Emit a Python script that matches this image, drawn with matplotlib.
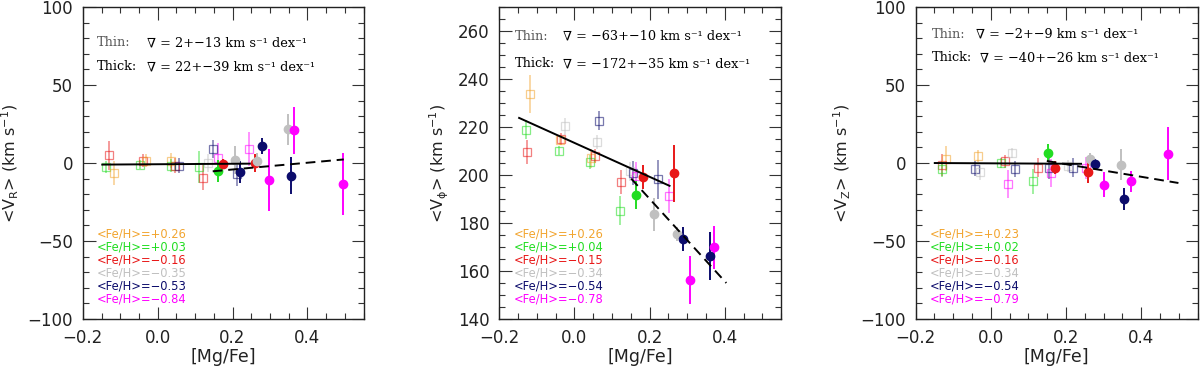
import matplotlib
matplotlib.use("Agg")
import matplotlib.pyplot as plt
from matplotlib.ticker import MultipleLocator, FuncFormatter

plt.rcParams['font.family'] = ['DejaVu Sans']
plt.rcParams['mathtext.fontset'] = 'dejavusans'
plt.rcParams['mathtext.default'] = 'regular'

bin_colors = ['#F2A530', '#22DD22', '#E81818', '#C0C0C0', '#0C0C6C', '#FF00FF']

# ---------------- Panel 1: V_R ----------------
R_thin_x = [-0.129, -0.137, -0.118, -0.047, -0.040, -0.032, 0.036, 0.036, 0.045, 0.058,
            0.110, 0.121, 0.135, 0.147, 0.161, 0.213, 0.245]
R_thin_y = [4.9, -2.5, -6.3, -1.0, 1.5, 1.5, 1.6, -1.6, -1.6, -1.6,
            -2.5, -9.5, 0.0, 9.0, 3.0, -7.0, 9.0]
R_thin_e = [9.5, 4, 7.5, 3, 4, 4, 5, 4, 5, 5,
            10, 8, 6, 6, 10, 8, 11]
R_thin_b = [2, 1, 0, 1, 2, 0, 0, 1, 2, 4,
            1, 2, 3, 4, 5, 4, 5]
R_thick_x = [0.161, 0.174, 0.206, 0.220, 0.261, 0.266, 0.279, 0.297, 0.347, 0.365, 0.356, 0.495]
R_thick_y = [-5.3, -0.6, 1.7, -5.7, 0.0, 1.5, 11.0, -10.8, 21.5, 21.0, -8.0, -13.5]
R_thick_e = [7, 3, 9, 7, 6, 5, 5, 20, 10, 15, 12, 20]
R_thick_b = [1, 2, 3, 4, 2, 3, 4, 5, 3, 5, 4, 5]
R_thin_fit_x = [-0.148, 0.246]
R_thin_fit_y = [-1.0, -0.4]
R_thick_fit_x = [0.147, 0.497]
R_thick_fit_y = [-5.3, 2.3]
R_feh = ['+0.26', '+0.03', '\u22120.16', '\u22120.35', '\u22120.53', '\u22120.84']
R_txt = ['2+\u221213', '22+\u221239']

# ---------------- Panel 2: V_phi ----------------
P_thin_x = [-0.117, -0.128, -0.125, -0.035, -0.037, -0.042, -0.026, 0.041, 0.045, 0.054,
            0.059, 0.066, 0.121, 0.125, 0.149, 0.156, 0.163, 0.223, 0.252]
P_thin_y = [233.8, 218.9, 209.5, 215.2, 214.6, 210.2, 220.3, 205.5, 207.0, 207.9,
            213.7, 222.6, 185.1, 197.1, 201.6, 201.0, 199.6, 198.2, 191.3]
P_thin_e = [8, 4, 5, 2.5, 2, 2, 3.5, 3, 4, 3,
            3, 4, 6, 5, 4, 5, 6, 8, 7]
P_thin_b = [0, 1, 2, 2, 0, 1, 3, 1, 0, 2,
            3, 4, 1, 2, 3, 4, 5, 4, 5]
P_thick_x = [0.183, 0.164, 0.266, 0.213, 0.274, 0.290, 0.360, 0.372, 0.307]
P_thick_y = [199.3, 191.7, 200.7, 183.6, 175.3, 173.2, 166.4, 169.9, 156.2]
P_thick_e = [5, 6, 12, 7, 3, 5, 10, 9, 10]
P_thick_b = [2, 1, 2, 3, 3, 4, 4, 5, 5]
P_thin_fit_x = [-0.147, 0.253]
P_thin_fit_y = [223.8, 195.5]
P_thick_fit_x = [0.151, 0.404]
P_thick_fit_y = [198.5, 155.0]
P_feh = ['+0.26', '+0.04', '\u22120.15', '\u22120.34', '\u22120.54', '\u22120.78']
P_txt = ['\u221263+\u221210', '\u2212172+\u221235']

# ---------------- Panel 3: V_Z ----------------
Z_thin_x = [-0.131, -0.130, -0.118, -0.042, -0.034, -0.030, 0.028, 0.039, 0.057, 0.045,
            0.065, 0.112, 0.125, 0.155, 0.161, 0.204, 0.218, 0.253]
Z_thin_y = [-1.0, -4.0, 2.7, -3.6, 4.4, -6.0, 0.0, 1.0, 6.5, -13.5,
            -4.0, -11.8, -3.0, -3.4, -6.1, -2.0, -3.0, -3.0]
Z_thin_e = [7, 5, 8, 5, 4, 5, 3, 4, 3, 9,
            5, 8, 6, 7, 9, 4, 6, 7]
Z_thin_b = [2, 1, 0, 4, 0, 3, 1, 2, 3, 5,
            4, 1, 2, 4, 5, 3, 4, 5]
Z_thick_x = [0.152, 0.172, 0.264, 0.258, 0.277, 0.300, 0.346, 0.354, 0.373, 0.470]
Z_thick_y = [6.5, -3.0, 2.3, -5.5, -0.5, -13.9, -1.0, -22.9, -11.8, 6.0]
Z_thick_e = [6, 4, 4, 7, 3, 8, 10, 7, 7, 17]
Z_thick_b = [1, 2, 3, 2, 4, 5, 3, 4, 5, 5]
Z_thin_fit_x = [-0.149, 0.240]
Z_thin_fit_y = [0.0, -0.5]
Z_thick_fit_x = [0.149, 0.499]
Z_thick_fit_y = [1.3, -12.8]
Z_feh = ['+0.23', '+0.02', '\u22120.16', '\u22120.34', '\u22120.54', '\u22120.79']
Z_txt = ['\u22122+\u22129', '\u221240+\u221226']

bottom, top = 0.1425, 0.981
panels = [
    dict(pos=[0.069, bottom, 0.234, top - bottom], ylim=(-100, 100), major=50, minor=10,
         ylabel=r'<V$_R$> (km s$^{-1}$)',
         thin=(R_thin_x, R_thin_y, R_thin_e, R_thin_b),
         thick=(R_thick_x, R_thick_y, R_thick_e, R_thick_b),
         tfit=(R_thin_fit_x, R_thin_fit_y), kfit=(R_thick_fit_x, R_thick_fit_y),
         feh=R_feh, txt=R_txt, ty=(0.885, 0.808), tx=(0.05, 0.228, 0.228)),
    dict(pos=[0.416, bottom, 0.235, top - bottom], ylim=(140, 270), major=20, minor=5,
         ylabel=r'<V$_\phi$> (km s$^{-1}$)',
         thin=(P_thin_x, P_thin_y, P_thin_e, P_thin_b),
         thick=(P_thick_x, P_thick_y, P_thick_e, P_thick_b),
         tfit=(P_thin_fit_x, P_thin_fit_y), kfit=(P_thick_fit_x, P_thick_fit_y),
         feh=P_feh, txt=P_txt, ty=(0.907, 0.818), tx=(0.057, 0.225, 0.225)),
    dict(pos=[0.763, bottom, 0.235, top - bottom], ylim=(-100, 100), major=50, minor=10,
         ylabel=r'<V$_Z$> (km s$^{-1}$)',
         thin=(Z_thin_x, Z_thin_y, Z_thin_e, Z_thin_b),
         thick=(Z_thick_x, Z_thick_y, Z_thick_e, Z_thick_b),
         tfit=(Z_thin_fit_x, Z_thin_fit_y), kfit=(Z_thick_fit_x, Z_thick_fit_y),
         feh=Z_feh, txt=Z_txt, ty=(0.912, 0.837), tx=(0.057, 0.215, 0.227)),
]

fig = plt.figure(figsize=(12, 3.72), dpi=100)

for p in panels:
    ax = fig.add_axes(p['pos'])
    tx, ty, te, tb = p['thin']
    for x, y, e, b in zip(tx, ty, te, tb):
        ax.errorbar([x], [y], yerr=[e], fmt='s', ms=6, mfc='none', mec=bin_colors[b],
                    ecolor=bin_colors[b], mew=0.9, elinewidth=1.1, alpha=0.55, zorder=2)
    kx, ky, ke, kb = p['thick']
    for x, y, e, b in zip(kx, ky, ke, kb):
        ax.errorbar([x], [y], yerr=[e], fmt='o', ms=6, color=bin_colors[b],
                    mec=bin_colors[b], elinewidth=1.4, zorder=3)
    ax.plot(p['tfit'][0], p['tfit'][1], '-', color='black', lw=1.4, zorder=4)
    ax.plot(p['kfit'][0], p['kfit'][1], '--', color='black', lw=1.4, dashes=(5, 3), zorder=4)

    ax.set_xlim(-0.2, 0.55)
    ax.set_ylim(*p['ylim'])
    ax.xaxis.set_major_locator(MultipleLocator(0.2))
    ax.xaxis.set_minor_locator(MultipleLocator(0.05))
    ax.yaxis.set_major_locator(MultipleLocator(p['major']))
    ax.yaxis.set_minor_locator(MultipleLocator(p['minor']))
    ax.xaxis.set_major_formatter(FuncFormatter(
        lambda v, pos: ('%.1f' % v).replace('-', '\u2212')))
    ax.tick_params(which='both', direction='in', top=True, right=True, labelsize=12,
                   color='#333333', labelcolor='#222222')
    ax.tick_params(which='major', length=9, width=0.8, pad=7)
    ax.tick_params(which='minor', length=4.5, width=0.8)
    for s in ax.spines.values():
        s.set_linewidth(1.0)
        s.set_color('#222222')
    ax.set_xlabel('[Mg/Fe]', fontsize=12.5, labelpad=1, color='#222222')
    ax.set_ylabel(p['ylabel'], fontsize=11.5, labelpad=5, color='#222222')

    # annotations
    ax.text(p['tx'][0], p['ty'][0], 'Thin:', transform=ax.transAxes, fontsize=9.3,
            family='DejaVu Serif', color='#555555', va='center')
    ax.text(p['tx'][1], p['ty'][0],
            '\u2207 = %s km s\u207b\u00b9 dex\u207b\u00b9' % p['txt'][0],
            transform=ax.transAxes, fontsize=9.3, family='DejaVu Serif', color='black', va='center')
    ax.text(p['tx'][0], p['ty'][1], 'Thick:', transform=ax.transAxes, fontsize=9.3,
            family='DejaVu Serif', color='black', va='center')
    ax.text(p['tx'][2], p['ty'][1],
            '\u2207 = %s km s\u207b\u00b9 dex\u207b\u00b9' % p['txt'][1],
            transform=ax.transAxes, fontsize=9.3, family='DejaVu Serif', color='black', va='center')

    for i, lab in enumerate(p['feh']):
        ax.text(0.05, 0.272 - i * 0.0415, '<Fe/H>=' + lab, transform=ax.transAxes,
                fontsize=8.3, color=bin_colors[i], va='center')

fig.savefig('out.png', dpi=100)
